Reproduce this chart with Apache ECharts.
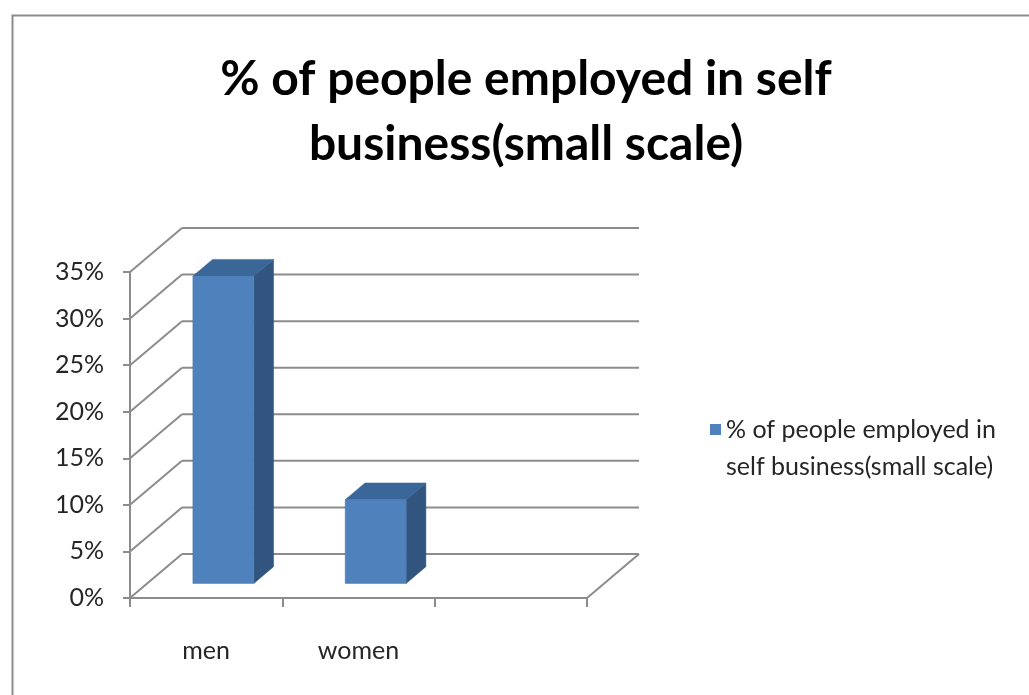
<!DOCTYPE html>
<html>
<head>
<meta charset="utf-8">
<script src="https://cdn.jsdelivr.net/npm/echarts@6/dist/echarts.min.js"></script>
<style>
  html, body { margin: 0; padding: 0; background: #ffffff; }
  #chart { width: 1029px; height: 695px; }
</style>
</head>
<body>
<div id="chart"></div>
<script>
// Share of people employed in small-scale self business, by gender
const categories = ['men', 'women', ''];
const seriesName = '% of people employed in self business(small scale)';
const values = [0.33, 0.09];
const yTicks = [0, 0.05, 0.10, 0.15, 0.20, 0.25, 0.30, 0.35];

// Depth of the pseudo-3D box (pixels, towards the back wall)
const DEPTH_X = 52;
const DEPTH_Y = -44;
// Bar sits between these fractions of the depth
const BAR_FRONT = 0.33;
const BAR_DEPTH = 0.38;
const LINE_COLOR = '#8c8c8c';
const FONT = 'Lato, "Open Sans", sans-serif';
const LEGEND_LINE = 37;

const chart = echarts.init(document.getElementById('chart'), null, { renderer: 'canvas' });

function wallItem(params, api) {
  const cs = params.coordSys;
  const v = api.value(0);
  const y = api.coord([0, v])[1];
  const left = cs.x;
  const right = cs.x + cs.width;
  const style = { stroke: LINE_COLOR, lineWidth: 2, fill: null };
  const children = [
    { type: 'line', shape: { x1: left, y1: y, x2: left + DEPTH_X, y2: y + DEPTH_Y }, style: style },
    { type: 'line', shape: { x1: left + DEPTH_X, y1: y + DEPTH_Y, x2: right + DEPTH_X, y2: y + DEPTH_Y }, style: style }
  ];
  if (v === 0) {
    children.push({ type: 'line', shape: { x1: right, y1: y, x2: right + DEPTH_X, y2: y + DEPTH_Y }, style: style });
  }
  return { type: 'group', children: children };
}

function barItem(params, api) {
  const idx = api.value(0);
  const c = api.coord([idx, 0])[0];
  const bw = api.size([1, 0])[0] * 0.4;
  const fx = BAR_FRONT * DEPTH_X, fy = BAR_FRONT * DEPTH_Y;
  const dx = BAR_DEPTH * DEPTH_X, dy = BAR_DEPTH * DEPTH_Y;
  const x0 = c - bw / 2 + fx;
  const x1 = x0 + bw;
  const yb = api.coord([idx, 0])[1] + fy;
  const yt = api.coord([idx, api.value(1)])[1] + fy;
  return {
    type: 'group',
    children: [
      { type: 'polygon', shape: { points: [[x1, yt], [x1 + dx, yt + dy], [x1 + dx, yb + dy], [x1, yb]] },
        style: { fill: '#31557f', stroke: '#31557f', lineWidth: 0.5 } },
      { type: 'polygon', shape: { points: [[x0, yt], [x0 + dx, yt + dy], [x1 + dx, yt + dy], [x1, yt]] },
        style: { fill: '#3b6698', stroke: '#3b6698', lineWidth: 0.5 } },
      { type: 'rect', shape: { x: x0, y: yt, width: bw, height: yb - yt },
        style: { fill: '#4f81bd', stroke: '#4a7bb6', lineWidth: 0.5 } }
    ]
  };
}

// Legend marker: an 11px square sitting level with the first text line
const legendIcon = 'path://M0,0L11,0L11,11L0,11Z M0,' + (LEGEND_LINE + 11) + 'L0.01,' + (LEGEND_LINE + 11);

chart.setOption({
  backgroundColor: '#ffffff',
  animation: false,
  title: {
    text: '% of people employed in self\nbusiness(small scale)',
    left: 526,
    textAlign: 'center',
    top: 47,
    padding: 0,
    textStyle: { fontFamily: FONT, fontSize: 48, fontWeight: 'bold', color: '#000000', lineHeight: 65 }
  },
  legend: {
    left: 705,
    top: 406,
    orient: 'vertical',
    icon: legendIcon,
    itemWidth: 11,
    itemHeight: LEGEND_LINE + 11,
    data: [seriesName],
    formatter: function () { return '% of people employed in\nself business(small scale)'; },
    textStyle: { fontFamily: FONT, fontSize: 25, color: '#262626', lineHeight: LEGEND_LINE }
  },
  graphic: [
    { type: 'rect', left: 10, top: 13, shape: { width: 1100, height: 800 },
      style: { fill: null, stroke: LINE_COLOR, lineWidth: 2 }, silent: true, z: 100 }
  ],
  grid: { left: 130, top: 272, width: 457, height: 326, containLabel: false },
  xAxis: {
    type: 'category',
    data: categories,
    boundaryGap: true,
    axisLine: { lineStyle: { color: LINE_COLOR, width: 2 } },
    axisTick: { show: true, length: 9, lineStyle: { color: LINE_COLOR, width: 2 } },
    axisLabel: { margin: 40, fontFamily: FONT, fontSize: 25, color: '#262626' },
    splitLine: { show: false }
  },
  yAxis: {
    type: 'value',
    min: 0,
    max: 0.35,
    interval: 0.05,
    axisLine: { show: true, lineStyle: { color: LINE_COLOR, width: 2 } },
    axisTick: { show: true, length: 7, lineStyle: { color: LINE_COLOR, width: 2 } },
    axisLabel: {
      margin: 26, fontFamily: FONT, fontSize: 25, color: '#262626',
      formatter: function (v) { return Math.round(v * 100) + '%'; }
    },
    splitLine: { show: false }
  },
  series: [
    {
      type: 'custom',
      name: 'walls',
      renderItem: wallItem,
      data: yTicks.map(function (v) { return [v]; }),
      encode: { y: 0 },
      silent: true,
      z: 1
    },
    {
      type: 'custom',
      name: seriesName,
      renderItem: barItem,
      itemStyle: { color: '#4f81bd' },
      data: values.map(function (v, i) { return [i, v]; }),
      encode: { x: 0, y: 1 },
      z: 3
    }
  ]
});
</script>
</body>
</html>
